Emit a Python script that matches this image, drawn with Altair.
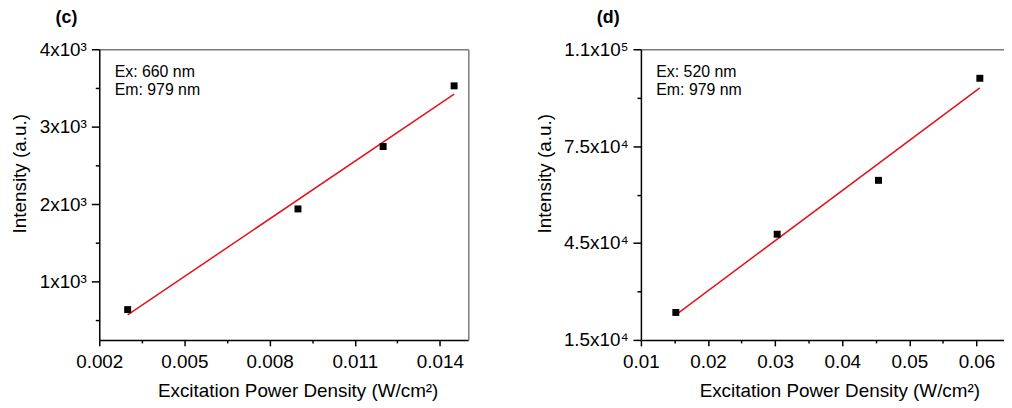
import altair as alt
import pandas as pd

# ---------------- data ----------------
# panel (c)  Ex 660 nm
c_x = [0.003, 0.009, 0.012, 0.0145]
c_y = [641, 1940, 2745, 3528]
# panel (d)  Ex 520 nm
d_x = [0.0152, 0.0303, 0.0454, 0.0605]
d_y = [23500, 47730, 64410, 96010]

# ticks / labels
c_xticks = [0.002, 0.005, 0.008, 0.011, 0.014]
c_xlabels = ["0.002", "0.005", "0.008", "0.011", "0.014"]
c_xminor = [0.0035, 0.0065, 0.0095, 0.0125]
c_yticks = [1000, 2000, 3000, 4000]
c_ylabels = ["1x10³", "2x10³", "3x10³", "4x10³"]
c_yminor = [500, 1500, 2500, 3500]

d_xticks = [0.01, 0.02, 0.03, 0.04, 0.05, 0.06]
d_xlabels = ["0.01", "0.02", "0.03", "0.04", "0.05", "0.06"]
d_xminor = [0.015, 0.025, 0.035, 0.045, 0.055]
d_yticks = [15000, 45000, 75000, 105000]
d_ylabels = ["1.5x10⁴", "4.5x10⁴", "7.5x10⁴", "1.1x10⁵"]
d_yminor = [30000, 60000, 90000]

c_note = ["Ex: 660 nm", "Em: 979 nm"]
d_note = ["Ex: 520 nm", "Em: 979 nm"]

X_TITLE = "Excitation Power Density (W/cm²)"
Y_TITLE = "Intensity (a.u.)"

RED = "#e3121b"
GRAY = "#7a7a7a"
FONT = "Liberation Sans"


def label_expr(values, labels):
    parts = [f"abs(datum.value - ({v})) < 1e-9 ? '{l}'" for v, l in zip(values, labels)]
    return " : ".join(parts) + " : ''"


def panel(xs, ys, xdom, ydom, xt, xl, xm, yt, yl, ym, tag, note, width, ytitle_x, right_spine):
    df = pd.DataFrame({"x": xs, "y": ys})
    base = alt.Chart(df)
    xsc = alt.Scale(domain=xdom, nice=False, zero=False)
    ysc = alt.Scale(domain=ydom, nice=False, zero=False)

    # regression line + gray top/right frame
    if right_spine:
        y_line = alt.Y("y:Q", scale=ysc, title=None,
                       axis=alt.Axis(orient="right", domainColor=GRAY, domainWidth=1.5,
                                     ticks=False, labels=False, grid=False))
    else:
        y_line = alt.Y("y:Q", scale=ysc, axis=None)
    line = base.transform_regression("x", "y").mark_line(color=RED, strokeWidth=1.5).encode(
        x=alt.X("x:Q", scale=xsc, title=None,
                axis=alt.Axis(orient="top", domainColor=GRAY, domainWidth=1.5,
                              ticks=False, labels=False, grid=False)),
        y=y_line,
    )

    # minor ticks
    minor = base.mark_point(opacity=0).encode(
        x=alt.X("x:Q", scale=xsc, title=None,
                axis=alt.Axis(orient="bottom", values=xm, labels=False, domain=False,
                              tickSize=3, tickWidth=1.5, tickColor="black", grid=False)),
        y=alt.Y("y:Q", scale=ysc, title=None,
                axis=alt.Axis(orient="left", values=ym, labels=False, domain=False,
                              tickSize=4, tickWidth=1.5, tickColor="black", grid=False)),
    )

    # data squares + main axes
    main = base.mark_square(size=49, color="black", opacity=1).encode(
        x=alt.X("x:Q", scale=xsc, title=X_TITLE,
                axis=alt.Axis(orient="bottom", values=xt, labelExpr=label_expr(xt, xl),
                              domainColor="black", domainWidth=1.5, tickColor="black",
                              tickWidth=1.5, tickSize=6, labelPadding=7, labelFlush=False,
                              labelOverlap=False, grid=False, titleX=200, titleY=51,
                              titleBaseline="middle", titleAlign="center")),
        y=alt.Y("y:Q", scale=ysc, title=Y_TITLE,
                axis=alt.Axis(orient="left", values=yt, labelExpr=label_expr(yt, yl),
                              domainColor="black", domainWidth=1.5, tickColor="black",
                              tickWidth=1.5, tickSize=8, labelPadding=5, labelFlush=False,
                              labelOverlap=False, grid=False, titleX=ytitle_x, titleY=125,
                              titleBaseline="middle", titleAlign="center", titleAngle=270)),
    )

    tag_t = alt.Chart(pd.DataFrame({"t": [tag]})).mark_text(
        fontSize=18, fontWeight="bold", align="center", baseline="middle"
    ).encode(x=alt.value(-33), y=alt.value(-31), text="t:N")

    ann = alt.Chart(pd.DataFrame({"t": [0]})).mark_text(
        align="left", baseline="alphabetic", fontSize=16, lineHeight=19, text=note
    ).encode(x=alt.value(15.5), y=alt.value(27.5))

    return alt.layer(line, minor, main, tag_t, ann).resolve_axis(
        x="independent", y="independent"
    ).properties(width=width, height=293)


pc = panel(c_x, c_y, [0.002, 0.015], [250, 4000], c_xticks, c_xlabels, c_xminor,
           c_yticks, c_ylabels, c_yminor, "(c)", c_note, 372, -80.5, True)
pdd = panel(d_x, d_y, [0.01, 0.0641], [15000, 105000], d_xticks, d_xlabels, d_xminor,
            d_yticks, d_ylabels, d_yminor, "(d)", d_note, 366, -97.5, False)

chart = alt.hconcat(pc, pdd, spacing=67).properties(
    padding={"left": 2, "top": 0, "right": 0, "bottom": 0}
).configure_view(strokeWidth=0).configure_axis(
    labelFont=FONT, titleFont=FONT, labelFontSize=19, titleFontSize=19,
    labelColor="black", titleColor="black", titleFontWeight="normal"
).configure_text(font=FONT, color="black")

chart.save("out.html", embed_options={"renderer": "svg", "actions": False})
